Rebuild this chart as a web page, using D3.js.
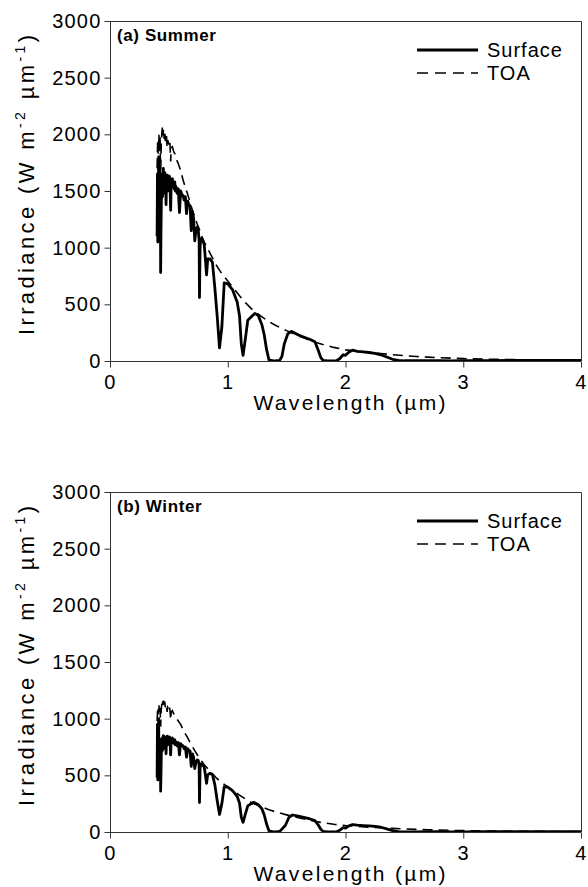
<!DOCTYPE html>
<html>
<head>
<meta charset="utf-8">
<script src="https://cdn.jsdelivr.net/npm/d3@7"></script>
<style>
  body { margin: 0; background: #fff; }
  svg text { font-family: "Liberation Sans", Arial, sans-serif; fill: #000; }
</style>
</head>
<body>
<svg id="chart" width="588" height="887"></svg>
<script>
// axis ticks
var xTicks = [0, 1, 2, 3, 4];
var yTicks = [0, 500, 1000, 1500, 2000, 2500, 3000];

// summer, top of atmosphere  [wavelength um, W m-2 um-1]
var summerTOA = [
  [0.40,1700],[0.405,1950],[0.41,1820],[0.415,2000],[0.42,1850],[0.425,1980],[0.43,1620],[0.435,1900],
  [0.44,2000],[0.445,2070],[0.45,1990],[0.455,2050],[0.46,1960],[0.465,2030],[0.47,1940],[0.475,2000],
  [0.48,1980],[0.485,1880],[0.49,1950],[0.50,1910],[0.505,1950],[0.51,1900],[0.515,1760],[0.52,1880],
  [0.53,1890],[0.54,1850],[0.55,1830],[0.56,1790],[0.58,1740],[0.60,1680],[0.62,1600],[0.64,1530],
  [0.66,1470],[0.68,1400],[0.70,1330],[0.72,1270],[0.74,1210],[0.76,1160],[0.78,1100],[0.80,1050],
  [0.85,950],[0.90,850],[0.95,770],[1.00,705],[1.05,640],[1.10,575],[1.15,515],[1.20,462],
  [1.25,420],[1.30,382],[1.35,348],[1.40,318],[1.45,292],[1.50,268],[1.55,245],[1.60,222],
  [1.65,202],[1.70,182],[1.75,163],[1.80,147],[1.90,120],[2.00,98],[2.10,88],[2.20,76],
  [2.30,66],[2.40,56],[2.50,47],[2.60,40],[2.70,34],[2.80,29],[3.00,21],[3.20,16],[3.50,11],[4.00,6]
];

// summer, surface
var summerSurface = [
  [0.40,1100],[0.403,1650],[0.406,1050],[0.41,1500],[0.413,1800],[0.416,1450],[0.42,1700],[0.425,1450],
  [0.428,1600],[0.43,780],[0.433,1150],[0.436,1400],[0.44,1550],[0.443,1650],[0.446,1450],[0.45,1600],
  [0.453,1700],[0.456,1480],[0.46,1650],[0.463,1520],[0.466,1660],[0.47,1550],[0.473,1620],[0.476,1380],
  [0.48,1600],[0.484,1560],[0.487,1640],[0.49,1500],[0.494,1620],[0.50,1580],[0.505,1630],[0.51,1550],
  [0.515,1330],[0.52,1580],[0.525,1560],[0.53,1610],[0.535,1540],[0.54,1570],[0.545,1520],[0.55,1580],
  [0.555,1500],[0.56,1540],[0.57,1480],[0.58,1520],[0.59,1310],[0.60,1500],[0.61,1470],[0.62,1460],
  [0.63,1420],[0.64,1450],[0.65,1300],[0.66,1410],[0.67,1380],[0.68,1370],[0.69,1150],[0.70,1320],
  [0.71,1260],[0.72,1060],[0.73,1150],[0.74,1180],[0.75,1150],[0.757,1060],[0.76,560],[0.765,1000],
  [0.77,1080],[0.78,1080],[0.80,1030],[0.81,900],[0.82,760],[0.83,900],[0.85,900],[0.87,870],
  [0.89,650],[0.91,400],[0.93,115],[0.95,300],[0.97,690],[1.00,680],[1.04,630],[1.08,520],
  [1.10,400],[1.115,150],[1.13,50],[1.15,200],[1.17,360],[1.20,390],[1.23,420],[1.26,400],
  [1.29,320],[1.31,230],[1.33,100],[1.35,10],[1.40,0],[1.44,5],[1.46,40],[1.48,150],
  [1.51,240],[1.54,262],[1.60,230],[1.70,190],[1.74,170],[1.77,90],[1.79,30],[1.81,5],
  [1.85,0],[1.92,0],[1.95,20],[1.98,55],[2.00,50],[2.03,80],[2.06,95],[2.10,85],
  [2.15,80],[2.20,75],[2.25,68],[2.30,55],[2.35,35],[2.40,15],[2.45,5],[2.50,2],
  [2.60,2],[2.70,4],[2.80,3],[2.90,1],[3.00,2],[3.20,4],[3.40,5],[3.60,6],[3.80,5],[4.00,6]
];

// winter, top of atmosphere
var winterTOA = [
  [0.40,980],[0.405,1100],[0.41,1040],[0.415,1130],[0.42,1060],[0.425,1120],[0.43,930],[0.435,1080],
  [0.44,1130],[0.445,1170],[0.45,1120],[0.455,1160],[0.46,1110],[0.465,1150],[0.47,1100],[0.475,1130],
  [0.48,1120],[0.485,1060],[0.49,1100],[0.50,1080],[0.505,1110],[0.51,1070],[0.515,990],[0.52,1060],
  [0.53,1070],[0.54,1045],[0.55,1035],[0.56,1010],[0.58,980],[0.60,950],[0.62,905],[0.64,865],
  [0.66,830],[0.68,790],[0.70,752],[0.72,718],[0.74,684],[0.76,655],[0.78,622],[0.80,593],
  [0.85,537],[0.90,480],[0.95,435],[1.00,398],[1.05,362],[1.10,325],[1.15,291],[1.20,261],
  [1.25,237],[1.30,216],[1.35,197],[1.40,180],[1.45,165],[1.50,151],[1.55,138],[1.60,125],
  [1.65,114],[1.70,103],[1.75,92],[1.80,83],[1.90,68],[2.00,56],[2.10,50],[2.20,43],
  [2.30,37],[2.40,32],[2.50,27],[2.60,23],[2.70,20],[2.80,17],[3.00,12],[3.20,9],[3.50,6],[4.00,4]
];

// winter, surface
var winterSurface = [
  [0.40,480],[0.403,950],[0.406,460],[0.41,720],[0.413,1000],[0.416,650],[0.42,820],[0.425,640],
  [0.428,780],[0.43,360],[0.433,520],[0.436,700],[0.44,780],[0.443,830],[0.446,720],[0.45,800],
  [0.453,850],[0.456,740],[0.46,830],[0.463,760],[0.466,840],[0.47,790],[0.473,830],[0.476,690],
  [0.48,820],[0.484,800],[0.487,845],[0.49,770],[0.494,830],[0.50,810],[0.505,840],[0.51,800],
  [0.515,680],[0.52,815],[0.525,800],[0.53,830],[0.535,790],[0.54,810],[0.545,780],[0.55,815],
  [0.555,770],[0.56,795],[0.57,760],[0.58,790],[0.59,680],[0.60,780],[0.61,765],[0.62,760],
  [0.63,735],[0.64,750],[0.65,660],[0.66,735],[0.67,720],[0.68,715],[0.69,580],[0.70,690],
  [0.71,660],[0.72,560],[0.73,615],[0.74,635],[0.75,630],[0.757,590],[0.76,260],[0.765,560],
  [0.77,600],[0.78,600],[0.80,575],[0.81,505],[0.82,430],[0.83,505],[0.85,520],[0.87,505],
  [0.89,420],[0.91,280],[0.93,155],[0.95,250],[0.97,400],[1.00,395],[1.04,365],[1.08,315],
  [1.10,255],[1.115,130],[1.13,85],[1.15,160],[1.17,230],[1.20,250],[1.22,262],[1.26,240],
  [1.29,205],[1.31,150],[1.33,70],[1.35,10],[1.40,0],[1.44,5],[1.46,25],[1.49,60],
  [1.52,130],[1.55,150],[1.60,140],[1.70,115],[1.74,100],[1.77,60],[1.79,25],[1.81,5],
  [1.85,0],[1.92,0],[1.95,15],[1.98,38],[2.00,35],[2.03,55],[2.06,66],[2.10,60],
  [2.15,57],[2.20,54],[2.25,50],[2.30,42],[2.35,28],[2.40,12],[2.45,4],[2.50,1],
  [2.60,1],[2.70,3],[2.80,2],[2.90,1],[3.00,1],[3.20,2],[3.40,3],[3.60,4],[3.80,3],[4.00,4]
];

var panels = [
  { label: "(a) Summer", surface: summerSurface, toa: summerTOA, top: 21 },
  { label: "(b) Winter", surface: winterSurface, toa: winterTOA, top: 492 }
];

var svg = d3.select("#chart");
var left = 110, right = 581, plotH = 340;

var x = d3.scaleLinear().domain([0, 4]).range([left, right]);

panels.forEach(function(p, pi){
    var y = d3.scaleLinear().domain([0, 3000]).range([p.top + plotH, p.top]);
    var g = svg.append("g");

    g.append("clipPath").attr("id", "clip" + pi)
        .append("rect")
        .attr("x", left).attr("y", p.top - 2)
        .attr("width", right - left).attr("height", plotH + 2);

    var line = d3.line()
        .x(function(d){ return x(d[0]); })
        .y(function(d){ return y(d[1]); });

    // curves
    g.append("path")
        .datum(p.toa)
        .attr("clip-path", "url(#clip" + pi + ")")
        .attr("fill", "none")
        .attr("stroke", "#000")
        .attr("stroke-width", 1.6)
        .attr("stroke-dasharray", "10,6")
        .attr("d", line);

    g.append("path")
        .datum(p.surface)
        .attr("clip-path", "url(#clip" + pi + ")")
        .attr("fill", "none")
        .attr("stroke", "#000")
        .attr("stroke-width", 2.8)
        .attr("stroke-linejoin", "round")
        .attr("d", line);

    // frame (top + right)
    g.append("path")
        .attr("fill", "none")
        .attr("stroke", "#333")
        .attr("stroke-width", 1)
        .attr("d", "M" + left + "," + (p.top + 0.5) + "H" + (right + 0.5) + "V" + (p.top + plotH));

    // axes
    var yAxis = g.append("g")
        .attr("transform", "translate(" + (left + 0.5) + ",0)")
        .call(d3.axisLeft(y).tickValues(yTicks).tickFormat(d3.format("d")).tickSize(6).tickPadding(3));
    var xAxis = g.append("g")
        .attr("transform", "translate(0," + (p.top + plotH + 0.5) + ")")
        .call(d3.axisBottom(x).tickValues(xTicks).tickFormat(d3.format("d")).tickSize(6).tickPadding(7));

    [yAxis, xAxis].forEach(function(a){
        a.selectAll("path.domain").attr("stroke", "#333").attr("stroke-width", 1);
        a.selectAll(".tick line").attr("stroke", "#333");
        a.selectAll(".tick text")
            .attr("font-size", "20px")
            .style("font-family", "'Liberation Sans', Arial, sans-serif")
            .style("letter-spacing", "1.2px");
    });
    yAxis.select("path.domain").attr("d", "M0," + p.top + "V" + (p.top + plotH));
    xAxis.select("path.domain").attr("d", "M" + left + ",0H" + right);

    // axis titles
    g.append("text")
        .attr("x", (left + right) / 2 + 4)
        .attr("y", p.top + plotH + 49)
        .attr("text-anchor", "middle")
        .attr("font-size", "21px")
        .attr("textLength", 192)
        .attr("lengthAdjust", "spacing")
        .text("Wavelength (\u00b5m)");

    var yt = g.append("text")
        .attr("transform", "translate(34," + (p.top + plotH / 2 - 6) + ") rotate(-90)")
        .attr("text-anchor", "middle")
        .attr("font-size", "22px")
        .attr("textLength", 300)
        .attr("lengthAdjust", "spacing");
    yt.append("tspan").text("Irradiance (W m");
    yt.append("tspan").attr("dy", -9).attr("font-size", "14px").text("-2");
    yt.append("tspan").attr("dy", 9).text(" \u00b5m");
    yt.append("tspan").attr("dy", -9).attr("font-size", "14px").text("-1");
    yt.append("tspan").attr("dy", 9).text(")");

    // panel label
    g.append("text")
        .attr("x", left + 7)
        .attr("y", p.top + 20)
        .attr("font-size", "17px")
        .attr("font-weight", "bold")
        .style("letter-spacing", "0.6px")
        .text(p.label);

    // legend
    var leg = [
        { name: "Surface", dash: null, w: 2.8, dy: 29 },
        { name: "TOA", dash: "11,7", w: 1.6, dy: 52 }
    ];
    leg.forEach(function(l){
        var ly = p.top + l.dy;
        g.append("line")
            .attr("x1", 417).attr("x2", 478)
            .attr("y1", ly).attr("y2", ly)
            .attr("stroke", "#000")
            .attr("stroke-width", l.w)
            .attr("stroke-dasharray", l.dash);
        g.append("text")
            .attr("x", 487).attr("y", ly + 7)
            .attr("font-size", "20px")
            .style("letter-spacing", "1px")
            .text(l.name);
    });
});
</script>
</body>
</html>
